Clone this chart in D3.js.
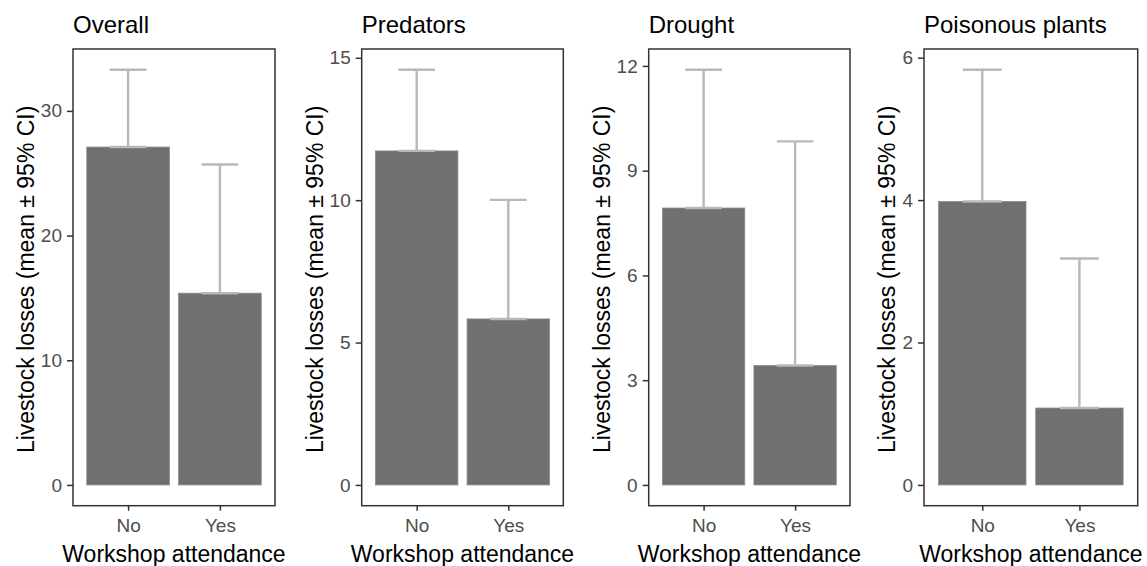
<!DOCTYPE html>
<html>
<head>
<meta charset="utf-8">
<script src="https://cdn.jsdelivr.net/npm/d3@7"></script>
<style>
  html, body { margin: 0; padding: 0; background: #fff; }
  svg { display: block; font-family: "Liberation Sans", Arial, sans-serif; }
</style>
</head>
<body>
<svg id="chart" width="1147" height="566"></svg>
<script>
// ---- data ----
const panelTitles = ["Overall", "Predators", "Drought", "Poisonous plants"];
const categories = ["No", "Yes"];
const meanOverall = [27.1, 15.38];
const meanPredators = [11.73, 5.83];
const meanDrought = [7.93, 3.42];
const meanPoisonous = [3.98, 1.08];
const upperOverall = [33.3, 25.7];
const upperPredators = [14.58, 10.01];
const upperDrought = [11.89, 9.84];
const upperPoisonous = [5.83, 3.18];
const ticksOverall = [0, 10, 20, 30];
const ticksPredators = [0, 5, 10, 15];
const ticksDrought = [0, 3, 6, 9, 12];
const ticksPoisonous = [0, 2, 4, 6];
const yTitle = "Livestock losses (mean \u00b1 95% CI)";
const xTitle = "Workshop attendance";

const means = [meanOverall, meanPredators, meanDrought, meanPoisonous];
const uppers = [upperOverall, upperPredators, upperDrought, upperPoisonous];
const yTicks = [ticksOverall, ticksPredators, ticksDrought, ticksPoisonous];

// ---- layout ----
const plotLefts = [73, 361.7, 648.7, 924];
const plotRights = [275, 563.3, 850, 1137.7];
const plotTop = 49, plotBottom = 505.7;

const svg = d3.select("#chart");
const barColor = "#707070";
const errColor = "#b8b8b8";
const axisColor = "#333333";
const tickTextColor = "#4d4d4d";

panelTitles.forEach((title, i) => {
  const L = plotLefts[i], R = plotRights[i];
  const maxV = d3.max(uppers[i]);
  const y = d3.scaleLinear().domain([-0.05 * maxV, 1.05 * maxV]).range([plotBottom, plotTop]);
  const x = d3.scalePoint().domain(categories).range([L, R]).padding(0.6);
  const step = x.step();
  const barW = step * 0.9, capW = step * 0.4;

  const g = svg.append("g");

  // bars
  g.selectAll("rect.bar").data(categories).join("rect")
    .attr("class", "bar")
    .attr("x", d => x(d) - barW / 2)
    .attr("width", barW)
    .attr("y", (d, j) => y(means[i][j]))
    .attr("height", (d, j) => y(0) - y(means[i][j]))
    .attr("fill", barColor)
    .attr("stroke", "#8a8a8a").attr("stroke-width", 0.8);

  // error bars (mean to upper CI)
  const eb = g.selectAll("g.err").data(categories).join("g").attr("class", "err")
    .attr("stroke", errColor).attr("stroke-width", 2.4).attr("fill", "none");
  eb.append("line")
    .attr("x1", d => x(d)).attr("x2", d => x(d))
    .attr("y1", (d, j) => y(means[i][j])).attr("y2", (d, j) => y(uppers[i][j]));
  eb.append("line")
    .attr("x1", d => x(d) - capW / 2).attr("x2", d => x(d) + capW / 2)
    .attr("y1", (d, j) => y(uppers[i][j])).attr("y2", (d, j) => y(uppers[i][j]));
  eb.append("line")
    .attr("x1", d => x(d) - capW / 2).attr("x2", d => x(d) + capW / 2)
    .attr("y1", (d, j) => y(means[i][j])).attr("y2", (d, j) => y(means[i][j]));

  // panel border
  g.append("rect")
    .attr("x", L).attr("y", plotTop)
    .attr("width", R - L).attr("height", plotBottom - plotTop)
    .attr("fill", "none").attr("stroke", axisColor).attr("stroke-width", 1.5);

  // y axis
  const ya = g.append("g").attr("transform", `translate(${L},0)`)
    .call(d3.axisLeft(y).tickValues(yTicks[i]).tickSize(6).tickPadding(5).tickFormat(d3.format("d")));
  ya.select(".domain").remove();
  ya.selectAll(".tick line").attr("stroke", axisColor).attr("stroke-width", 1.5);
  ya.selectAll(".tick text").attr("fill", tickTextColor)
    .style("font-size", "19px").style("font-family", "'Liberation Sans', Arial, sans-serif");

  // x axis
  const xa = g.append("g").attr("transform", `translate(0,${plotBottom})`)
    .call(d3.axisBottom(x).tickSize(5).tickPadding(8));
  xa.select(".domain").remove();
  xa.selectAll(".tick line").attr("stroke", axisColor).attr("stroke-width", 1.5);
  xa.selectAll(".tick text").attr("fill", tickTextColor)
    .style("font-size", "19px").style("font-family", "'Liberation Sans', Arial, sans-serif");

  // titles
  g.append("text").attr("x", L).attr("y", 33)
    .attr("fill", "#000").style("font-size", "24px").text(title);

  g.append("text")
    .attr("x", (L + R) / 2).attr("y", 561.5)
    .attr("text-anchor", "middle").attr("fill", "#000")
    .style("font-size", "23px").text(xTitle);

  const tickWidth = d3.max(ya.selectAll(".tick text").nodes(), n => n.getBBox().width);
  const yTitleX = L - 6 - 5 - tickWidth - 7;
  g.append("text")
    .attr("transform", `translate(${yTitleX},${(plotTop + plotBottom) / 2 + 2}) rotate(-90)`)
    .attr("text-anchor", "middle").attr("fill", "#000")
    .style("font-size", "23px").text(yTitle);
});
</script>
</body>
</html>
